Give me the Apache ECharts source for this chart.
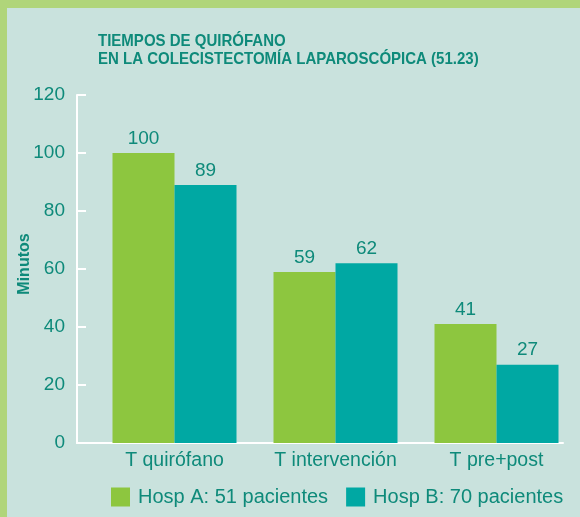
<!DOCTYPE html>
<html>
<head>
<meta charset="utf-8">
<script src="https://cdn.jsdelivr.net/npm/echarts@6/dist/echarts.min.js"></script>
<style>
  html, body { margin: 0; padding: 0; }
  #chart { width: 580px; height: 517px; background: #c9e2dd; }
</style>
</head>
<body>
<div id="chart"></div>
<script>
// categorias del eje x
const categories = ['T quirófano', 'T intervención', 'T pre+post'];
// minutos por hospital
const hospA = [100, 59, 41];
const hospB = [89, 62, 27];
const seriesNames = ['Hosp A: 51 pacientes', 'Hosp B: 70 pacientes'];
const yTicks = [0, 20, 40, 60, 80, 100, 120];

const teal = '#0e8a7a';
const font = 'Liberation Sans, Arial, sans-serif';

let myChart = echarts.init(document.getElementById('chart'));
let option = {
  backgroundColor: '#c9e2dd',
  graphic: [
    { type: 'rect', shape: { x: 0, y: 0, width: 580, height: 8 }, style: { fill: '#b0d57a' } },
    { type: 'rect', shape: { x: 0, y: 0, width: 7, height: 517 }, style: { fill: '#b0d57a' } },
    {
      // titulo algo condensado
      type: 'text',
      x: 98,
      y: 32,
      scaleX: 0.91,
      style: {
        text: 'TIEMPOS DE QUIRÓFANO\nEN LA COLECISTECTOMÍA LAPAROSCÓPICA (51.23)',
        font: 'bold 16.5px ' + font,
        lineHeight: 18.5,
        fill: teal
      }
    },
    {
      // nombre del eje y
      type: 'text',
      x: 25,
      y: 264,
      rotation: Math.PI / 2,
      style: {
        text: 'Minutos',
        font: 'bold 16px ' + font,
        align: 'center',
        verticalAlign: 'middle',
        fill: teal
      }
    }
  ],
  legend: {
    bottom: 10,
    left: 111,
    padding: 0,
    itemWidth: 19,
    itemHeight: 19,
    itemGap: 18,
    icon: 'rect',
    data: seriesNames,
    textStyle: { fontFamily: font, fontSize: 20, color: teal, padding: [0, 0, 0, 3] }
  },
  grid: [
    { left: 94, right: 3, top: 95, bottom: 74 },
    { left: 77, right: 17, top: 95, bottom: 74 }
  ],
  xAxis: [
    {
      type: 'category',
      gridIndex: 0,
      data: categories,
      axisLine: { show: false },
      axisTick: { show: false },
      axisLabel: { interval: 0, fontFamily: font, fontSize: 19.5, color: teal, margin: 8 }
    },
    {
      // solo la linea blanca del eje
      type: 'value',
      gridIndex: 1,
      min: 0,
      max: 1,
      axisLine: { show: true, lineStyle: { color: '#ffffff', width: 2 } },
      axisTick: { show: false },
      axisLabel: { show: false },
      splitLine: { show: false }
    }
  ],
  yAxis: [
    {
      type: 'value',
      gridIndex: 0,
      min: yTicks[0],
      max: yTicks[yTicks.length - 1],
      interval: 20,
      offset: 17,
      axisLine: { show: true, lineStyle: { color: '#ffffff', width: 2 } },
      axisTick: { show: true, inside: true, length: 9, lineStyle: { color: '#ffffff', width: 2 } },
      axisLabel: { fontFamily: font, fontSize: 19, color: teal, margin: 12 },
      splitLine: { show: false }
    },
    { type: 'value', gridIndex: 1, show: false }
  ],
  series: [
    {
      name: seriesNames[0],
      type: 'bar',
      data: hospA,
      barWidth: 62,
      barGap: '0%',
      itemStyle: { color: '#8dc63f' },
      label: { show: true, position: 'top', distance: 5, fontFamily: font, fontSize: 19, color: teal }
    },
    {
      name: seriesNames[1],
      type: 'bar',
      data: hospB,
      barWidth: 62,
      barGap: '0%',
      itemStyle: { color: '#00a8a3' },
      label: { show: true, position: 'top', distance: 5, fontFamily: font, fontSize: 19, color: teal }
    }
  ]
};
myChart.setOption(option);
</script>
</body>
</html>
